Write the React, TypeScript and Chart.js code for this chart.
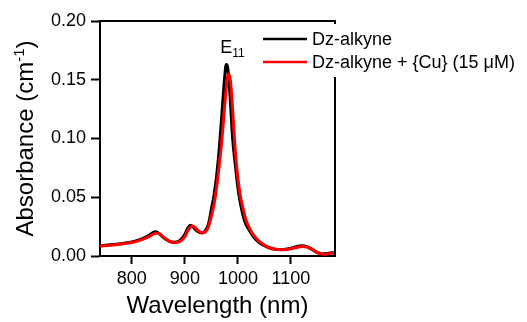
import React, { useEffect, useRef } from "react";
import { Chart, registerables } from "chart.js";

Chart.register(...registerables);

const wavelengths = [740, 760, 780, 800, 815, 830, 840, 845, 850, 860, 870, 880, 890, 900, 905, 910, 915, 920, 925, 930, 935, 940, 945, 950, 955, 960, 965, 970, 975, 978, 980, 983, 986, 990, 995, 1000, 1005, 1010, 1015, 1020, 1025, 1030, 1040, 1050, 1060, 1070, 1080, 1090, 1100, 1110, 1120, 1130, 1140, 1150, 1160, 1170, 1183];

const dzAlkyne = [0.0088, 0.0095, 0.0105, 0.012, 0.014, 0.017, 0.02, 0.0207, 0.0195, 0.0155, 0.0127, 0.0117, 0.013, 0.0185, 0.0235, 0.0262, 0.025, 0.0225, 0.0207, 0.0198, 0.02, 0.0225, 0.028, 0.04, 0.052, 0.069, 0.092, 0.122, 0.152, 0.163, 0.162, 0.15, 0.13, 0.1, 0.078, 0.058, 0.044, 0.034, 0.027, 0.023, 0.0192, 0.016, 0.0115, 0.0088, 0.0068, 0.0058, 0.0055, 0.0058, 0.0066, 0.008, 0.0088, 0.008, 0.0055, 0.0028, 0.0018, 0.0022, 0.003];

const dzAlkyneCu = [0.0085, 0.0092, 0.0102, 0.0115, 0.0133, 0.016, 0.0185, 0.0193, 0.0193, 0.016, 0.0128, 0.0115, 0.0122, 0.0165, 0.021, 0.0245, 0.0255, 0.024, 0.0215, 0.02, 0.0198, 0.0212, 0.0255, 0.034, 0.044, 0.059, 0.078, 0.1, 0.128, 0.143, 0.151, 0.155, 0.149, 0.125, 0.09, 0.066, 0.05, 0.04, 0.031, 0.0255, 0.021, 0.0175, 0.0125, 0.0092, 0.007, 0.0058, 0.0054, 0.0056, 0.0062, 0.0072, 0.008, 0.0077, 0.0058, 0.003, 0.0015, 0.0018, 0.0028];

const seriesLabels = ["Dz-alkyne", "Dz-alkyne + {Cu} (15 μM)"];
const seriesColors = ["#000000", "#ff0000"];
const xTicks = [800, 900, 1000, 1100];
const yTicks = [0, 0.05, 0.1, 0.15, 0.2];
const xTitle = "Wavelength (nm)";
const yTitleMain = "Absorbance (cm";
const yTitleSup = "-1";
const yTitleEnd = ")";
const peakLabel = "E";
const peakLabelSub = "11";
const peakAt = 978;

const FONT = '"Liberation Sans", Arial, sans-serif';

const decorPlugin = {
  id: "decor",
  afterDraw(chart: any) {
    const ctx = chart.ctx;
    const a = chart.chartArea;
    const xs = chart.scales.x;
    const ys = chart.scales.y;
    ctx.save();
    // frame top & right
    ctx.strokeStyle = "#000";
    ctx.lineWidth = 2;
    ctx.beginPath();
    ctx.moveTo(a.left, a.top);
    ctx.lineTo(a.right, a.top);
    ctx.lineTo(a.right, a.top + 3);
    ctx.stroke();
    ctx.beginPath();
    ctx.moveTo(a.right, a.top + 56);
    ctx.lineTo(a.right, a.bottom);
    ctx.stroke();

    // legend
    const lx = a.right - 72;
    const rows = [a.top + 18, a.top + 41];
    ctx.font = `18px ${FONT}`;
    ctx.textBaseline = "middle";
    ctx.textAlign = "left";
    seriesLabels.forEach((lab, i) => {
      ctx.strokeStyle = seriesColors[i];
      ctx.lineWidth = 2.5;
      ctx.beginPath();
      ctx.moveTo(lx, rows[i]);
      ctx.lineTo(lx + 44, rows[i]);
      ctx.stroke();
      ctx.fillStyle = "#000";
      ctx.fillText(lab, lx + 49, rows[i] + 1);
    });

    // peak label
    const px = xs.getPixelForValue(peakAt);
    const py = ys.getPixelForValue(0.163);
    ctx.textBaseline = "alphabetic";
    ctx.font = `18px ${FONT}`;
    const ex = px - 6;
    const ey = py - 11;
    ctx.fillText(peakLabel, ex, ey);
    const ew = ctx.measureText(peakLabel).width;
    ctx.font = `12px ${FONT}`;
    ctx.fillText(peakLabelSub, ex + ew, ey + 4);

    // x title
    ctx.font = `24px ${FONT}`;
    ctx.textAlign = "center";
    ctx.fillText(xTitle, (a.left + a.right) / 2, 313);

    // y title (rotated)
    ctx.translate(33, (a.top + a.bottom) / 2);
    ctx.rotate(-Math.PI / 2);
    ctx.textAlign = "left";
    ctx.font = `24px ${FONT}`;
    const w1 = ctx.measureText(yTitleMain).width;
    const w3 = ctx.measureText(yTitleEnd).width;
    ctx.font = `15px ${FONT}`;
    const w2 = ctx.measureText(yTitleSup).width;
    const total = w1 + w2 + w3;
    let cx = -total / 2;
    ctx.font = `24px ${FONT}`;
    ctx.fillText(yTitleMain, cx, 0);
    cx += w1;
    ctx.font = `15px ${FONT}`;
    ctx.fillText(yTitleSup, cx, -9);
    cx += w2;
    ctx.font = `24px ${FONT}`;
    ctx.fillText(yTitleEnd, cx, 0);
    ctx.restore();
  },
};

export default function App() {
  const ref = useRef<HTMLCanvasElement>(null);
  useEffect(() => {
    document.body.style.margin = "0";
    const chart = new Chart(ref.current!, {
      type: "line",
      data: {
        datasets: [
          {
            label: seriesLabels[0],
            data: wavelengths.map((w, i) => ({ x: w, y: dzAlkyne[i] })),
            borderColor: seriesColors[0],
            borderWidth: 3,
            pointRadius: 0,
            cubicInterpolationMode: "monotone",
            order: 2,
          },
          {
            label: seriesLabels[1],
            data: wavelengths.map((w, i) => ({ x: w, y: dzAlkyneCu[i] })),
            borderColor: seriesColors[1],
            borderWidth: 3,
            pointRadius: 0,
            cubicInterpolationMode: "monotone",
            order: 1,
          },
        ],
      },
      options: {
        animation: false,
        responsive: true,
        maintainAspectRatio: false,
        layout: { padding: { left: 0, top: 21, right: 192, bottom: 0 } },
        plugins: { legend: { display: false }, tooltip: { enabled: false } },
        scales: {
          x: {
            type: "linear",
            min: 740,
            max: 1183,
            afterBuildTicks: (s: any) => {
              s.ticks = xTicks.map((v) => ({ value: v }));
            },
            afterFit: (s: any) => {
              s.height = 66;
            },
            grid: { drawOnChartArea: false, drawTicks: true, tickLength: 8, tickColor: "#000", tickWidth: 2 },
            border: { display: true, color: "#000", width: 2 },
            ticks: {
              color: "#000",
              font: { family: FONT, size: 18 },
              padding: 4,
              maxRotation: 0,
              callback: (v: any) => String(v),
            },
          },
          y: {
            type: "linear",
            min: 0,
            max: 0.2,
            afterBuildTicks: (s: any) => {
              s.ticks = yTicks.map((v) => ({ value: v }));
            },
            afterFit: (s: any) => {
              s.width = 100;
            },
            grid: { drawOnChartArea: false, drawTicks: true, tickLength: 9, tickColor: "#000", tickWidth: 2 },
            border: { display: true, color: "#000", width: 2 },
            ticks: {
              color: "#000",
              font: { family: FONT, size: 18 },
              padding: 5,
              callback: (v: any) => Number(v).toFixed(2),
            },
          },
        },
      },
      plugins: [decorPlugin],
    });
    return () => chart.destroy();
  }, []);
  return (
    <div style={{ width: 527, height: 322, position: "relative" }}>
      <canvas ref={ref} />
    </div>
  );
}
